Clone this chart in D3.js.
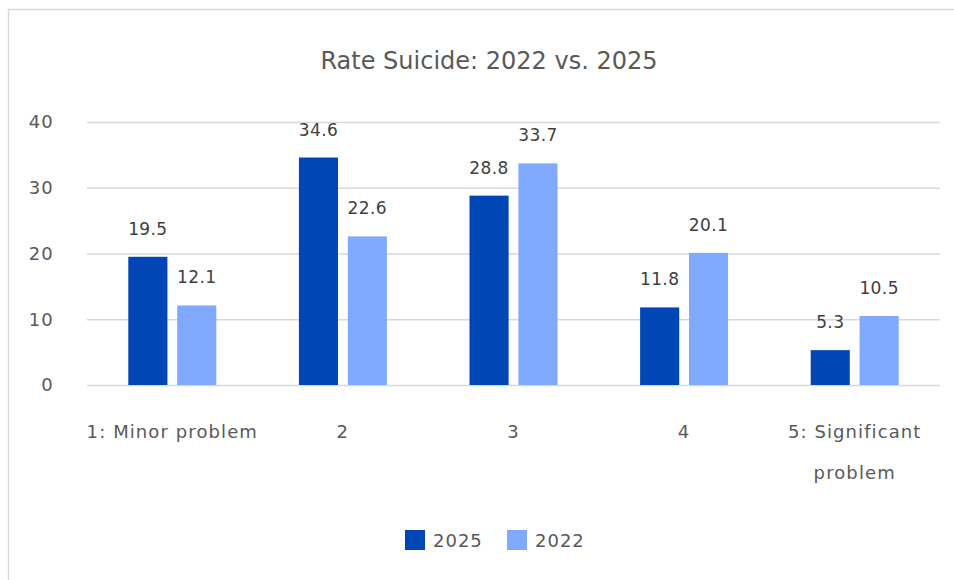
<!DOCTYPE html>
<html><head><meta charset="utf-8">
<script src="https://cdn.jsdelivr.net/npm/d3@7"></script>
<style>body{margin:0;background:#fff;}svg{display:block;font-family:"DejaVu Sans",sans-serif;}</style>
</head><body><svg id="c" width="954" height="580"></svg>
<script>
const categories = [["1: Minor problem"], ["2"], ["3"], ["4"], ["5: Significant", "problem"]];
const seriesNames = ["2025", "2022"];
const values2025 = [19.5, 34.6, 28.8, 11.8, 5.3];
const values2022 = [12.1, 22.6, 33.7, 20.1, 10.5];
const yTicks = [0, 10, 20, 30, 40];
const colors = ["#0046B5", "#7FAAFF"];
const title = "Rate Suicide: 2022 vs. 2025";

const svg = d3.select("#c");
svg.append("rect").attr("x", 8.5).attr("y", 9.5).attr("width", 960).attr("height", 600)
  .attr("fill", "#fff").attr("stroke", "#d9d9d9").attr("stroke-width", 1.5);

const m = {l: 87, r: 940, t: 122, b: 385};
const x = d3.scaleBand().domain(d3.range(categories.length)).range([m.l, m.r]);
const y = d3.scaleLinear().domain([0, 40]).range([m.b, m.t]);
const x1 = d3.scaleBand().domain(seriesNames).range([-44, 44]).paddingInner(0.2);

svg.append("text").attr("x", 489).attr("y", 69).attr("text-anchor", "middle")
  .attr("font-size", 24).attr("fill", "#595959").text(title);

const gy = svg.append("g").attr("transform", `translate(${m.l},0)`)
  .call(d3.axisLeft(y).tickValues(yTicks).tickSize(-(m.r - m.l)).tickPadding(33));
gy.select(".domain").remove();
gy.selectAll(".tick line").attr("stroke", "#d9d9d9").attr("stroke-width", 1.5);
gy.selectAll(".tick text").attr("fill", "#595959").attr("font-size", 18)
  .attr("font-family", "DejaVu Sans").attr("letter-spacing", 1.2);

const gx = svg.append("g").attr("transform", `translate(0,${m.b})`)
  .call(d3.axisBottom(x).tickSize(0).tickFormat(""));
gx.select(".domain").remove();
gx.selectAll(".tick").each(function(d) {
  const t = d3.select(this).append("text").attr("fill", "#595959").attr("font-size", 18)
    .attr("font-family", "DejaVu Sans").attr("letter-spacing", 1.1).attr("text-anchor", "middle");
  categories[d].forEach((line, i) => t.append("tspan").attr("x", 0).attr("y", 53 + i * 41).text(line));
});

const data = [values2025, values2022];
seriesNames.forEach((s, si) => {
  const g = svg.append("g");
  g.selectAll("rect").data(data[si]).join("rect")
    .attr("x", (d, i) => x(i) + x.bandwidth() / 2 + x1(s))
    .attr("width", x1.bandwidth())
    .attr("y", d => y(d)).attr("height", d => y(0) - y(d))
    .attr("fill", colors[si]);
  g.selectAll("text").data(data[si]).join("text")
    .attr("x", (d, i) => x(i) + x.bandwidth() / 2 + x1(s) + x1.bandwidth() / 2)
    .attr("y", d => y(d) - 22)
    .attr("text-anchor", "middle").attr("font-size", 17).attr("letter-spacing", 0.4)
    .attr("fill", "#404040")
    .text(d => d.toFixed(1));
});

const leg = svg.append("g").attr("transform", "translate(405,530)");
seriesNames.forEach((s, i) => {
  const g = leg.append("g").attr("transform", `translate(${i * 102},0)`);
  g.append("rect").attr("width", 20).attr("height", 20).attr("fill", colors[i]);
  g.append("text").attr("x", 28).attr("y", 17).attr("font-size", 18).attr("letter-spacing", 1)
    .attr("fill", "#595959").text(s);
});
</script></body></html>
